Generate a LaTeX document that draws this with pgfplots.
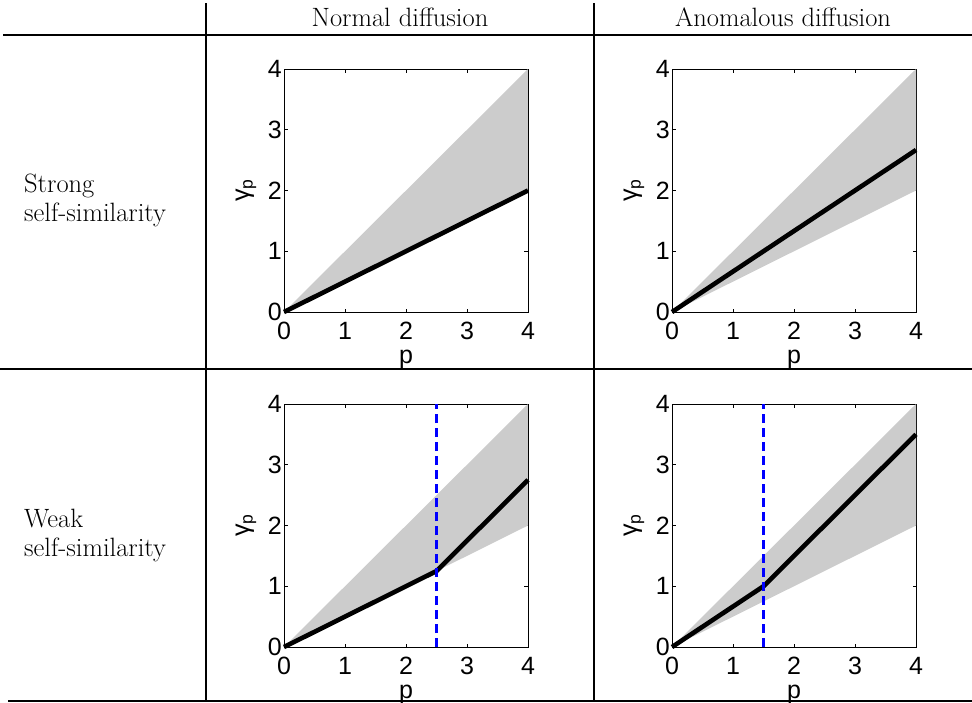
\documentclass[border=0pt]{standalone}
\usepackage{fontspec}
\usepackage{pgfplots}
\pgfplotsset{compat=1.18}
\newfontfamily\helv{Liberation Sans}
\definecolor{band}{HTML}{CCCCCC}

\pgfplotsset{
  panel/.style={
    scale only axis, width=244pt, height=243pt,
    xmin=0, xmax=4, ymin=0, ymax=4,
    xtick={0,1,2,3,4}, ytick={0,1,2,3,4},
    tick align=inside, major tick length=3.5pt,
    axis line style={line width=0.9pt},
    every tick/.style={black, line width=0.9pt},
    font=\helv\fontsize{25}{30}\selectfont,
    /pgf/number format/assume math mode=true,
    every tick label/.append style={inner sep=1pt},
    xticklabel style={yshift=-9pt},
    yticklabel style={xshift=-1pt},
    xlabel={p}, ylabel={γ\textsubscript{p}},
    every axis x label/.style={at={(axis description cs:0.5,0)}, anchor=north, yshift=-38pt, inner sep=0pt},
    every axis y label/.style={at={(axis description cs:-0.156,0.5)}, rotate=90, anchor=center, inner sep=0pt},
    clip=false,
  },
  gband/.style={fill=band, draw=none},
  kline/.style={black, line width=4.6pt, line join=round},
  bdash/.style={blue, line width=2.3pt, dash pattern=on 9pt off 5pt},
}

\begin{document}
\begin{tikzpicture}
\useasboundingbox (0,0) rectangle (972pt,-702pt);

% normal diffusion, strong
\begin{axis}[panel, at={(284pt,-69pt)}, anchor=north west]
\addplot[gband] coordinates {(0,0) (4,4) (4,2) (0,0)};
\addplot[kline] coordinates {(0,0) (4,2)};
\end{axis}

% anomalous diffusion, strong
\begin{axis}[panel, at={(672pt,-69pt)}, anchor=north west]
\addplot[gband] coordinates {(0,0) (4,4) (4,2) (0,0)};
\addplot[kline] coordinates {(0,0) (4,2.667)};
\end{axis}

% normal diffusion, weak
\begin{axis}[panel, at={(284pt,-404pt)}, anchor=north west]
\addplot[gband] coordinates {(0,0) (4,4) (4,2) (0,0)};
\addplot[kline] coordinates {(0,0) (2.5,1.25) (4,2.75)};
\addplot[bdash] coordinates {(2.5,0) (2.5,4)};
\end{axis}

% anomalous diffusion, weak
\begin{axis}[panel, at={(672pt,-404pt)}, anchor=north west]
\addplot[gband] coordinates {(0,0) (4,4) (4,2) (0,0)};
\addplot[kline] coordinates {(0,0) (1.5,1.0) (4,3.5)};
\addplot[bdash] coordinates {(1.5,0) (1.5,4)};
\end{axis}

% table text
\begin{scope}[every node/.style={inner sep=0pt, font=\fontsize{26.5}{28}\selectfont}]
\node[anchor=base] at (400pt,-26pt) {Normal diffusion};
\node[anchor=base] at (783pt,-26pt) {Anomalous diffusion};
\node[anchor=base west] at (24pt,-192pt) {Strong};
\node[anchor=base west] at (24pt,-221pt) {self-similarity};
\node[anchor=base west] at (24pt,-527pt) {Weak};
\node[anchor=base west] at (24pt,-556pt) {self-similarity};
\end{scope}

% table rules
\draw[line width=2pt] (3pt,-35pt) -- (972pt,-35pt);
\draw[line width=1.3pt] (0pt,-369pt) -- (972pt,-369pt);
\draw[line width=1.3pt] (8pt,-701pt) -- (972pt,-701pt);
\draw[line width=2.7pt] (206pt,-3pt) -- (206pt,-702pt);
\draw[line width=1.3pt] (594pt,-3pt) -- (594pt,-702pt);
\end{tikzpicture}
\end{document}
